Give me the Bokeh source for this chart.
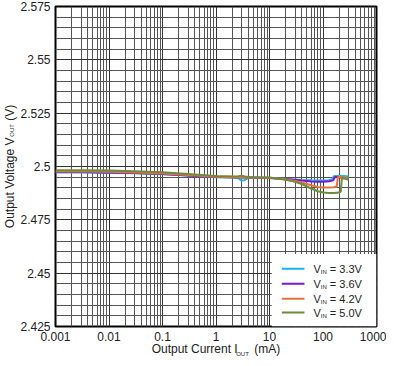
import math
from bokeh.plotting import figure
from bokeh.models import Range1d, FixedTicker, Label
from bokeh.embed import file_html
from bokeh.resources import INLINE

# ---- data ----
x_33 = [0.001, 0.003, 0.01, 0.03, 0.1, 0.3, 1, 2, 2.6, 3.0, 3.4, 4, 6, 10, 20, 40, 60, 80, 100, 130, 150, 160, 170, 200, 250, 300]
y_33 = [2.4972, 2.4972, 2.4970, 2.4968, 2.4964, 2.4958, 2.4950, 2.4948, 2.4945, 2.4934, 2.4936, 2.4947, 2.4948, 2.4946, 2.4942, 2.4937, 2.4935, 2.4934, 2.4934, 2.4936, 2.4940, 2.4954, 2.4956, 2.4956, 2.4955, 2.4953]

x_36 = [0.001, 0.003, 0.01, 0.03, 0.1, 0.3, 1, 3, 10, 20, 40, 60, 80, 100, 130, 155, 165, 175, 200, 250, 300]
y_36 = [2.4974, 2.4974, 2.4972, 2.4969, 2.4965, 2.4958, 2.4951, 2.4948, 2.4946, 2.4941, 2.4934, 2.4930, 2.4929, 2.4929, 2.4931, 2.4935, 2.4950, 2.4951, 2.4950, 2.4946, 2.4943]

x_42 = [0.001, 0.003, 0.01, 0.03, 0.1, 0.3, 1, 3, 10, 20, 30, 40, 60, 80, 100, 130, 160, 180, 190, 200, 250, 300]
y_42 = [2.4977, 2.4977, 2.4975, 2.4972, 2.4967, 2.4960, 2.4952, 2.4949, 2.4947, 2.4940, 2.4932, 2.4925, 2.4912, 2.4904, 2.4902, 2.4902, 2.4903, 2.4906, 2.4950, 2.4952, 2.4948, 2.4945]

x_50 = [0.001, 0.003, 0.01, 0.03, 0.1, 0.3, 1, 2.5, 3, 3.5, 5, 10, 20, 30, 40, 60, 80, 100, 130, 160, 200, 215, 225, 250, 300]
y_50 = [2.4983, 2.4983, 2.4981, 2.4978, 2.4973, 2.4965, 2.4955, 2.4953, 2.4957, 2.4953, 2.4950, 2.4948, 2.4938, 2.4928, 2.4918, 2.4897, 2.4884, 2.4878, 2.4876, 2.4876, 2.4878, 2.4882, 2.4947, 2.4944, 2.4938]

series_names = ["3.3V", "3.6V", "4.2V", "5.0V"]
series_colors = ["#1ab4ee", "#7d16cc", "#e8703a", "#6b8c3a"]

x_ticks = [0.001, 0.01, 0.1, 1, 10, 100, 1000]
x_tick_labels = ["0.001", "0.01", "0.1", "1", "10", "100", "1000"]
y_ticks = [2.425, 2.45, 2.475, 2.5, 2.525, 2.55, 2.575]
y_tick_labels = ["2.425", "2.45", "2.475", "2.5", "2.525", "2.55", "2.575"]

x_title_main, x_title_sub, x_title_tail = "Output Current I", "OUT", "(mA)"
y_title_main, y_title_sub, y_title_tail = "Output Voltage V", "OUT", "(V)"

FONT = "Liberation Sans"
TXT = "#222222"
NB = "\u00a0"

W = {' ': 278, NB: 278, '(': 333, ')': 333, '.': 278, '=': 584, 'A': 667, 'C': 722, 'I': 278,
     'N': 722, 'O': 778, 'T': 611, 'U': 722, 'V': 667, 'a': 556, 'e': 556, 'g': 556,
     'l': 222, 'm': 833, 'n': 556, 'o': 556, 'p': 556, 'r': 333, 't': 278, 'u': 556}
for d in "0123456789":
    W[d] = 556


def tw(s, size):
    return sum(W.get(c, 556) for c in s) * size / 1000.0


CW, CH = 386, 358
BL, BR, BT, BB = 51, 10, 5, 31
GAP = NB * 5
XSTAND = -2

p = figure(width=CW, height=CH, x_axis_type="log", output_backend="svg",
           toolbar_location=None, min_border_left=BL, min_border_right=BR,
           min_border_top=BT, min_border_bottom=BB)
p.x_range = Range1d(0.001, 1000)
p.y_range = Range1d(2.425, 2.575)
p.background_fill_color = "white"
p.border_fill_color = "white"
p.outline_line_color = "black"
p.outline_line_width = 2

xminor = []
for e in range(-3, 3):
    for m in range(2, 10):
        xminor.append(m * 10 ** e)
p.xaxis.ticker = FixedTicker(ticks=x_ticks, minor_ticks=xminor)
p.xaxis.major_label_overrides = {t: l for t, l in zip(x_ticks, x_tick_labels)}
yminor = [round(2.425 + 0.005 * i, 3) for i in range(31)]
p.yaxis.ticker = FixedTicker(ticks=y_ticks, minor_ticks=yminor)
p.yaxis.major_label_overrides = {t: l for t, l in zip(y_ticks, y_tick_labels)}

for ax in (p.xaxis, p.yaxis):
    ax.axis_line_color = None
    ax.major_tick_line_color = None
    ax.minor_tick_line_color = None
    ax.major_tick_out = 0
    ax.minor_tick_out = 0
    ax.major_label_text_font = FONT
    ax.major_label_text_font_size = "12px"
    ax.major_label_text_color = TXT
    ax.major_label_standoff = 5
    ax.axis_label_text_font = FONT
    ax.axis_label_text_font_size = "12px"
    ax.axis_label_text_font_style = "normal"
    ax.axis_label_text_color = TXT

p.xaxis.axis_label = x_title_main + GAP + x_title_tail
p.xaxis.axis_label_standoff = XSTAND
p.yaxis.axis_label = y_title_main + GAP + y_title_tail
p.yaxis.axis_label_standoff = 0

for g in (p.xgrid, p.ygrid):
    g.grid_line_color = "#333333"
    g.grid_line_alpha = 1
    g.minor_grid_line_color = "#555555"
    g.minor_grid_line_alpha = 1

fh = CH - BT - BB  # frame height in px
fw = CW - BL - BR

leg_top = 2.425 + 73 / fh * 0.15
p.quad(left=[11], right=[1000], bottom=[2.425], top=[leg_top],
       fill_color="white", line_color=None)

xs = [x_33, x_36, x_42, x_50]
ys = [y_33, y_36, y_42, y_50]
for xv, yv, c in zip(xs, ys, series_colors):
    p.line(xv, yv, line_color=c, line_width=2)

row_y = [2.425 + h / fh * 0.15 for h in (58, 43, 28, 14)]
for ry, name, c in zip(row_y, series_names, series_colors):
    p.segment(x0=[17], y0=[ry], x1=[45], y1=[ry], line_color=c, line_width=2)
    off = 9
    p.add_layout(Label(x=45, y=ry, x_offset=off, text="V", text_font=FONT,
                       text_font_size="11px", text_baseline="middle", text_color=TXT))
    off += tw("V", 11)
    p.add_layout(Label(x=45, y=ry, x_offset=off, y_offset=-3, text="IN", text_font=FONT,
                       text_font_size="6px", text_baseline="middle", text_color=TXT))
    off += tw("IN", 6) + tw(" ", 11)
    p.add_layout(Label(x=45, y=ry, x_offset=off, text="= " + name, text_font=FONT,
                       text_font_size="11px", text_baseline="middle", text_color=TXT))

# subscripts of the axis titles (canvas units; placed in thin side panels)
SUB = 6
xt_total = tw(x_title_main + GAP + x_title_tail, 12)
xsub_x = BL + fw / 2 - xt_total / 2 + tw(x_title_main, 12) + 0.5
xsub_y = CH - BB + 25.5 + XSTAND + 3
p.add_layout(Label(x=xsub_x, y=xsub_y, x_units="canvas", y_units="canvas", text=x_title_sub,
                   text_font=FONT, text_font_size=f"{SUB}px", text_baseline="middle",
                   text_color=TXT), "above")

yt_total = tw(y_title_main + GAP + y_title_tail, 12)
ysub_y = BT + fh / 2 + yt_total / 2 - tw(y_title_main, 12) - 0.5
ysub_x = BL - (5 + 30 + 0 + 7.5) + 3
p.add_layout(Label(x=ysub_x, y=ysub_y, x_units="canvas", y_units="canvas", text=y_title_sub,
                   angle=math.pi / 2, text_font=FONT, text_font_size=f"{SUB}px",
                   text_baseline="middle", text_color=TXT), "right")

open("out.html", "w").write(file_html(p, INLINE))
